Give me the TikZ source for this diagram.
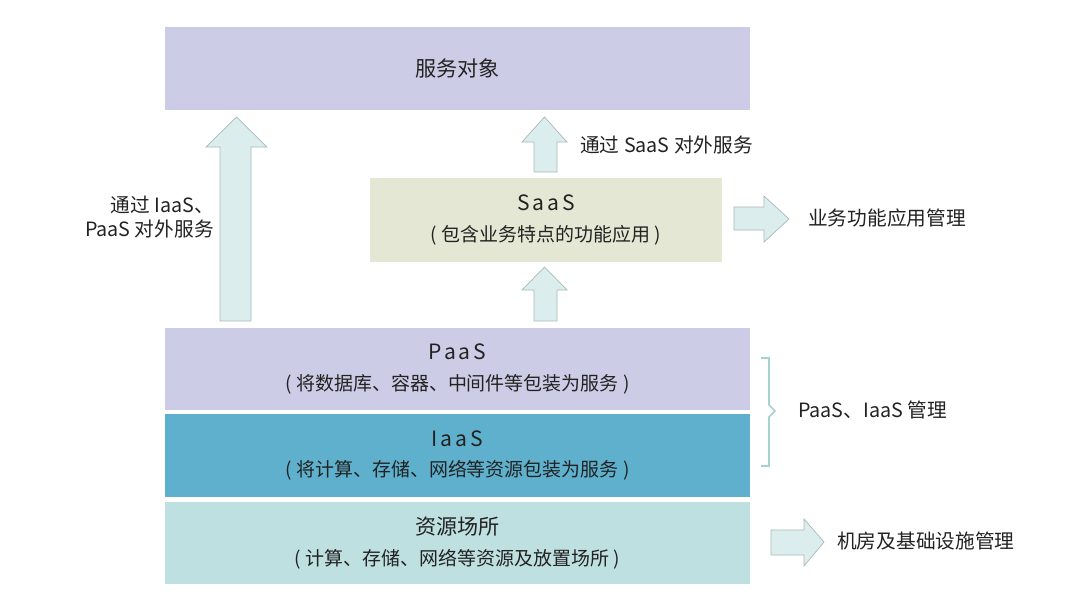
\documentclass[tikz,border=0pt]{standalone}
\usepackage{fontspec}
\setmainfont{Noto Sans CJK SC}
\usetikzlibrary{calc}
\definecolor{LayerLav}{HTML}{CDCCE6}
\definecolor{LayerSaaS}{HTML}{E5E7D5}
\definecolor{LayerIaaS}{HTML}{5FB0CC}
\definecolor{LayerRes}{HTML}{BFE0E1}
\definecolor{ArrFill}{HTML}{DCEDEE}
\definecolor{ArrLine}{HTML}{A9B9BA}
\definecolor{BrkLine}{HTML}{A6D3D1}
\definecolor{TxtDark}{HTML}{222222}
\tikzset{
    layer/.style = {rectangle, inner sep=0pt, text=TxtDark, align=center,
        font=\fontsize{13.5}{22}\selectfont},
    sidetext/.style = {inner sep=0pt, text=TxtDark, font=\fontsize{14}{17}\selectfont},
    blockarrow/.style = {fill=ArrFill, draw=ArrLine, line width=0.5pt, line join=miter}
}
\newcommand{\layername}[1]{{\fontsize{15}{22}\selectfont\addfontfeature{LetterSpace=14}#1}}
\begin{document}
\begin{tikzpicture}[x=0.025cm,y=-0.025cm]
                \useasboundingbox[fill=white] (0,0) rectangle (1080,607);
                % layers
                \node[layer, fill=LayerLav, minimum width=14.625cm, minimum height=2.075cm] (target) at (457.5,68.5) {\fontsize{15}{22}\selectfont 服务对象};
                \node[layer, fill=LayerSaaS, minimum width=8.8cm, minimum height=2.1cm] (saas) at (546,220) {\layername{SaaS}\\( 包含业务特点的功能应用 )};
                \node[layer, fill=LayerLav, minimum width=14.625cm, minimum height=2.05cm] (paas) at (457.5,369) {\layername{PaaS}\\( 将数据库、容器、中间件等包装为服务 )};
                \node[layer, fill=LayerIaaS, minimum width=14.625cm, minimum height=2.075cm] (iaas) at (457.5,455.5) {\layername{IaaS}\\( 将计算、存储、网络等资源包装为服务 )};
                \node[layer, fill=LayerRes, minimum width=14.625cm, minimum height=2.05cm] (res) at (457.5,543) {\fontsize{15}{22}\selectfont 资源场所\\( 计算、存储、网络等资源及放置场所 )};
                % block arrows
                \draw[blockarrow] (220,321) -- (220,147) -- (206,147) -- (236.5,117) -- (267,147) -- (251,147) -- (251,321) -- cycle;
                \draw[blockarrow] (534,172) -- (534,142) -- (522,142) -- (544.5,117) -- (567,142) -- (557,142) -- (557,172) -- cycle;
                \draw[blockarrow] (534,321) -- (534,290) -- (522,290) -- (544.5,267) -- (567,290) -- (557,290) -- (557,321) -- cycle;
                \draw[blockarrow] (734,207) -- (764,207) -- (764,196) -- (789,219) -- (764,242) -- (764,230) -- (734,230) -- cycle;
                \draw[blockarrow] (771,530) -- (804,530) -- (804,519) -- (824,542) -- (804,566) -- (804,555) -- (771,555) -- cycle;
                % bracket
                \draw[BrkLine, line width=1.2pt] (761,358) -- (769,358) -- (769,405) -- (775,411) -- (769,417) -- (769,466) -- (761,466);
                % side labels
                \node[sidetext, align=right, anchor=east] (viaip) at (214,217) {通过 IaaS、\\PaaS 对外服务};
                \node[sidetext, anchor=west] (vias) at (580,145) {通过 SaaS 对外服务};
                \node[sidetext, anchor=west] (appmgmt) at (808,218) {业务功能应用管理};
                \node[sidetext, anchor=west] (pimgmt) at (798,410) {PaaS、IaaS 管理};
                \node[sidetext, anchor=west] (facmgmt) at (837,541) {机房及基础设施管理};
            \end{tikzpicture}
\end{document}
